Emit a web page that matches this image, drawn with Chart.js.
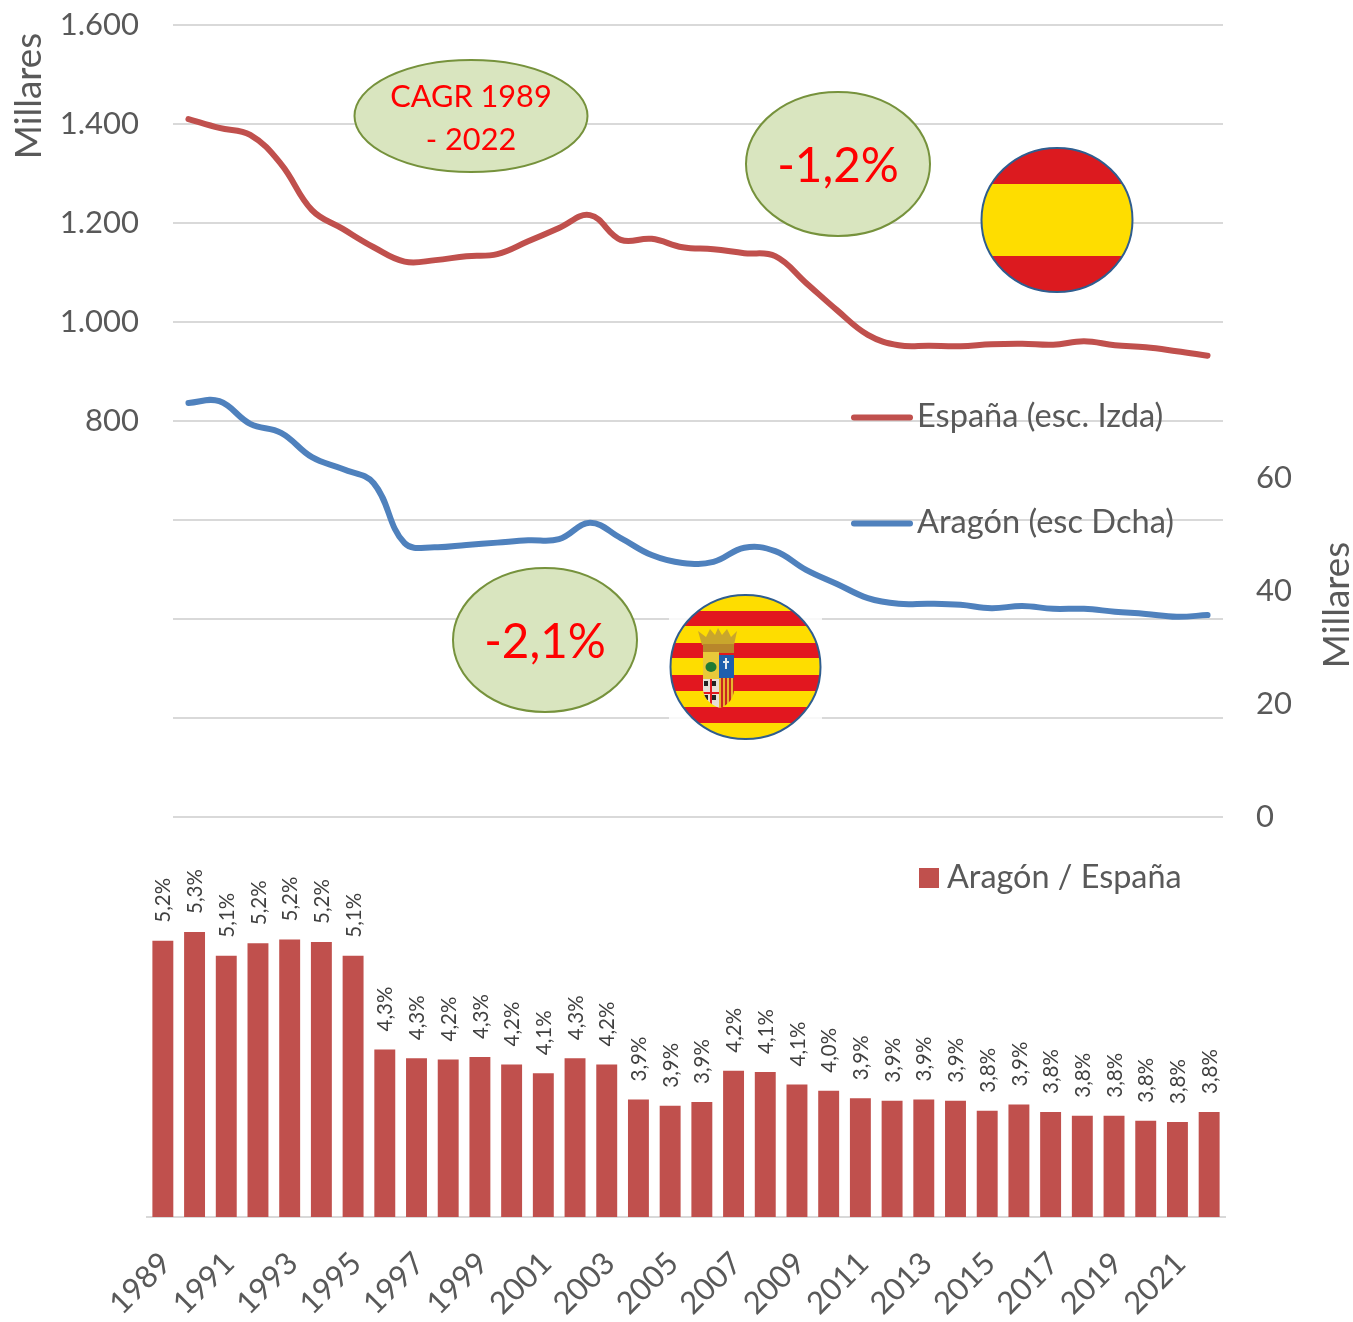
<!DOCTYPE html>
<html lang="es">
<head>
<meta charset="utf-8">
<title>Aragón / España</title>
<script src="https://cdn.jsdelivr.net/npm/chart.js@4"></script>
<style>
  html, body { margin: 0; padding: 0; background: #fff; }
  canvas { position: absolute; left: 0; }
  #grafica-lineas { top: 0; }
  #grafica-barras { top: 830px; }
</style>
</head>
<body>
<canvas id="grafica-lineas" width="1353" height="830"></canvas>
<canvas id="grafica-barras" width="1353" height="492"></canvas>
<script>
const anios = [1989, 1990, 1991, 1992, 1993, 1994, 1995, 1996, 1997, 1998, 1999, 2000, 2001, 2002, 2003, 2004, 2005,
  2006, 2007, 2008, 2009, 2010, 2011, 2012, 2013, 2014, 2015, 2016, 2017, 2018, 2019, 2020, 2021, 2022];
const espana = [1410, 1392, 1378, 1319, 1226, 1188, 1151, 1122, 1125, 1133, 1137, 1163, 1190, 1216, 1166, 1168, 1151,
  1147, 1139, 1133, 1079, 1024, 974, 953, 952, 951, 955, 956, 954, 961, 953, 949, 941, 932];
const aragon = [73.2, 73.5, 69.5, 67.9, 63.6, 61.5, 59.0, 48.4, 47.7, 48.1, 48.5, 48.9, 49.1, 52.0, 49.3, 46.3, 44.9,
  45.1, 47.6, 47.0, 43.7, 41.2, 38.7, 37.7, 37.7, 37.5, 36.9, 37.3, 36.8, 36.8, 36.3, 35.9, 35.4, 35.7];
const cuota = [5.21, 5.28, 5.09, 5.19, 5.22, 5.20, 5.09, 4.34, 4.27, 4.26, 4.28, 4.22, 4.15, 4.27, 4.22, 3.94, 3.89,
  3.92, 4.17, 4.16, 4.06, 4.01, 3.95, 3.93, 3.94, 3.93, 3.85, 3.90, 3.84, 3.81, 3.81, 3.77, 3.76, 3.84];
const etiquetasCuota = ['5,2%', '5,3%', '5,1%', '5,2%', '5,2%', '5,2%', '5,1%', '4,3%', '4,3%', '4,2%', '4,3%', '4,2%',
  '4,1%', '4,3%', '4,2%', '3,9%', '3,9%', '3,9%', '4,2%', '4,1%', '4,1%', '4,0%', '3,9%', '3,9%', '3,9%', '3,9%',
  '3,8%', '3,9%', '3,8%', '3,8%', '3,8%', '3,8%', '3,8%', '3,8%'];
const ticksIzda = [800, 1000, 1200, 1400, 1600];
const ticksDcha = [0, 20, 40, 60];

const FUENTE = 'Lato';
const GRIS = '#595959';
const ROJO = '#C0504D';
const AZUL = '#4F81BD';

function texto(ctx, cad, x, y, size, color, align = 'left', angulo = 0) {
  ctx.save();
  ctx.translate(x, y);
  ctx.rotate(angulo);
  ctx.font = `${size}px ${FUENTE}`;
  ctx.fillStyle = color;
  ctx.textAlign = align;
  ctx.textBaseline = 'middle';
  ctx.fillText(cad, 0, 0);
  ctx.restore();
}

function elipse(ctx, cx, cy, rx, ry, relleno, borde, grosor) {
  ctx.beginPath();
  ctx.ellipse(cx, cy, rx, ry, 0, 0, Math.PI * 2);
  if (relleno) { ctx.fillStyle = relleno; ctx.fill(); }
  if (borde) { ctx.strokeStyle = borde; ctx.lineWidth = grosor; ctx.stroke(); }
}

function entradaLeyenda(ctx, cad, y, color) {
  ctx.beginPath();
  ctx.moveTo(854, y + 1);
  ctx.lineTo(910, y + 1);
  ctx.strokeStyle = color;
  ctx.lineWidth = 6;
  ctx.lineCap = 'round';
  ctx.stroke();
  texto(ctx, cad, 917, y, 32.6, GRIS);
}

function banderaEspana(ctx) {
  const cx = 1057, cy = 220, rx = 75.5, ry = 72;
  ctx.save();
  ctx.beginPath();
  ctx.ellipse(cx, cy, rx, ry, 0, 0, Math.PI * 2);
  ctx.clip();
  ctx.fillStyle = '#DC1A1F';
  ctx.fillRect(cx - rx, cy - ry, rx * 2, ry * 2);
  ctx.fillStyle = '#FEDD00';
  ctx.fillRect(cx - rx, 184, rx * 2, 72);
  ctx.restore();
  elipse(ctx, cx, cy, rx, ry, null, '#2F5D8F', 2);
}

function banderaAragon(ctx) {
  const cx = 745.5, cy = 667, rx = 75, ry = 72;
  // halo blanco de la imagen pegada, tapa casi del todo las lineas de rejilla
  ctx.fillStyle = 'rgba(255,255,255,0.8)';
  ctx.fillRect(669, 594, 153, 147);
  ctx.save();
  ctx.beginPath();
  ctx.ellipse(cx, cy, rx, ry, 0, 0, Math.PI * 2);
  ctx.clip();
  ctx.fillStyle = '#FEDD00';
  ctx.fillRect(cx - rx, cy - ry, rx * 2, ry * 2);
  ctx.fillStyle = '#E2171F';
  [[611, 626], [643, 658], [675, 691], [707, 723]].forEach(([a, b]) => ctx.fillRect(cx - rx, a, rx * 2, b - a));
  ctx.restore();
  elipse(ctx, cx, cy, rx, ry, null, '#2F5D8F', 2);

  // corona
  ctx.fillStyle = '#C9A62C';
  ctx.beginPath();
  ctx.moveTo(702, 645);
  ctx.lineTo(698, 631);
  ctx.lineTo(706, 637);
  ctx.lineTo(710, 629);
  ctx.lineTo(715, 635);
  ctx.lineTo(718, 628);
  ctx.lineTo(722, 635);
  ctx.lineTo(727, 629);
  ctx.lineTo(731, 637);
  ctx.lineTo(737, 631);
  ctx.lineTo(734, 645);
  ctx.closePath();
  ctx.fill();
  ctx.fillStyle = '#B8862B';
  ctx.fillRect(703, 644, 31, 9);

  // escudo, recortado con la base redondeada
  ctx.save();
  ctx.beginPath();
  ctx.moveTo(703, 652);
  ctx.lineTo(734, 652);
  ctx.lineTo(734, 690);
  ctx.quadraticCurveTo(733, 703, 720, 708);
  ctx.quadraticCurveTo(705, 703, 703, 690);
  ctx.closePath();
  ctx.clip();
  ctx.fillStyle = '#E8C93A';
  ctx.fillRect(703, 652, 16, 27);
  ctx.fillStyle = '#1F5FAE';
  ctx.fillRect(719, 655, 15, 23);
  ctx.fillStyle = '#E6E0D8';
  ctx.fillRect(703, 679, 16, 30);
  ctx.fillStyle = '#E2171F';
  ctx.fillRect(703, 692, 16, 2);
  ctx.fillRect(710, 679, 2, 30);
  ctx.fillStyle = '#E9B52E';
  ctx.fillRect(719, 678, 15, 31);
  ctx.fillStyle = '#C8281F';
  for (let x = 721; x < 734; x += 4) ctx.fillRect(x, 678, 2, 31);
  ctx.fillStyle = '#222';
  [[706, 683], [714, 683], [706, 697], [714, 697]].forEach(([x, y]) => ctx.fillRect(x - 2, y - 2, 4, 5));
  ctx.restore();
  // encina y cruz
  ctx.fillStyle = '#1F7A33';
  ctx.beginPath();
  ctx.ellipse(711, 667, 5.5, 5, 0, 0, Math.PI * 2);
  ctx.fill();
  ctx.fillStyle = '#E4E8EE';
  ctx.fillRect(725, 658, 2, 11);
  ctx.fillRect(723, 661, 6, 2);
}

const decoracion = {
  id: 'decoracion',
  afterDraw(chart) {
    const ctx = chart.ctx;
    texto(ctx, 'Millares', 29, 96, 36.8, GRIS, 'center', -Math.PI / 2);
    texto(ctx, 'Millares', 1337, 605, 36.8, GRIS, 'center', -Math.PI / 2);

    entradaLeyenda(ctx, 'España (esc. Izda)', 416.5, ROJO);
    entradaLeyenda(ctx, 'Aragón (esc Dcha)', 522.5, AZUL);

    const verde = '#D9E5BF', bordeVerde = '#76923C';
    elipse(ctx, 471, 116, 116.5, 56, verde, bordeVerde, 2);
    texto(ctx, 'CAGR 1989', 471, 97, 30.7, '#FF0000', 'center');
    texto(ctx, '- 2022', 471, 140, 30.7, '#FF0000', 'center');
    elipse(ctx, 838, 164, 92, 72, verde, bordeVerde, 2);
    texto(ctx, '-1,2%', 838, 167, 47.5, '#FF0000', 'center');
    elipse(ctx, 545, 640, 92, 72, verde, bordeVerde, 2);
    texto(ctx, '-2,1%', 545, 643, 47.5, '#FF0000', 'center');

    banderaEspana(ctx);
    banderaAragon(ctx);
  }
};

new Chart(document.getElementById('grafica-lineas').getContext('2d'), {
  type: 'line',
  data: {
    labels: anios,
    datasets: [
      { label: 'España (esc. Izda)', data: espana, yAxisID: 'y', borderColor: ROJO, borderWidth: 6, tension: 0.4, pointRadius: 0, borderCapStyle: 'round' },
      { label: 'Aragón (esc Dcha)', data: aragon, yAxisID: 'y1', borderColor: AZUL, borderWidth: 6, tension: 0.4, pointRadius: 0, borderCapStyle: 'round' }
    ]
  },
  options: {
    responsive: false,
    animation: false,
    layout: { padding: { top: 25, bottom: 13 } },
    plugins: { legend: { display: false }, tooltip: { enabled: false } },
    scales: {
      x: { display: false, offset: true },
      y: {
        position: 'left',
        min: 0,
        max: 1600,
        afterFit: s => { s.width = 173; s.paddingTop = 0; s.paddingBottom = 0; },
        border: { display: false },
        grid: { color: '#D9D9D9', lineWidth: 2, drawTicks: false },
        ticks: {
          stepSize: 200,
          padding: 34,
          color: GRIS,
          font: { family: FUENTE, size: 31 },
          callback: v => ticksIzda.includes(v) ? v.toLocaleString('es-ES', { useGrouping: 'always' }) : ''
        }
      },
      y1: {
        position: 'right',
        min: 0,
        max: 140,
        afterFit: s => { s.width = 130; s.paddingTop = 0; s.paddingBottom = 0; },
        border: { display: false },
        grid: { display: false, drawTicks: false },
        ticks: {
          stepSize: 20,
          padding: 33,
          color: GRIS,
          font: { family: FUENTE, size: 31 },
          callback: v => ticksDcha.includes(v) ? String(v) : ''
        }
      }
    }
  },
  plugins: [decoracion]
});

const etiquetasBarras = {
  id: 'etiquetasBarras',
  afterDatasetsDraw(chart) {
    const ctx = chart.ctx;
    chart.getDatasetMeta(0).data.forEach((barra, i) => {
      texto(ctx, etiquetasCuota[i], barra.x + 1, barra.y - 18, 20.5, '#404040', 'left', -Math.PI / 2);
    });
    ctx.fillStyle = ROJO;
    ctx.fillRect(919, 38, 20, 20);
    texto(ctx, 'Aragón / España', 947, 48, 32.4, GRIS);
  }
};

new Chart(document.getElementById('grafica-barras').getContext('2d'), {
  type: 'bar',
  data: {
    labels: anios,
    datasets: [{ label: 'Aragón / España', data: cuota, backgroundColor: ROJO, barPercentage: 0.66, categoryPercentage: 1 }]
  },
  options: {
    responsive: false,
    animation: false,
    layout: { padding: { left: 147, right: 128, top: 37 } },
    plugins: { legend: { display: false }, tooltip: { enabled: false } },
    scales: {
      x: {
        afterFit: s => { s.height = 105; },
        border: { color: '#D9D9D9', width: 2 },
        grid: { display: false },
        ticks: {
          autoSkip: false,
          minRotation: 45,
          maxRotation: 45,
          padding: 20,
          labelOffset: 3,
          color: GRIS,
          font: { family: FUENTE, size: 31 },
          callback: (v, i) => i % 2 === 0 ? anios[i] : ''
        }
      },
      y: { display: false, min: 3, max: 5.8 }
    }
  },
  plugins: [etiquetasBarras]
});
</script>
</body>
</html>
